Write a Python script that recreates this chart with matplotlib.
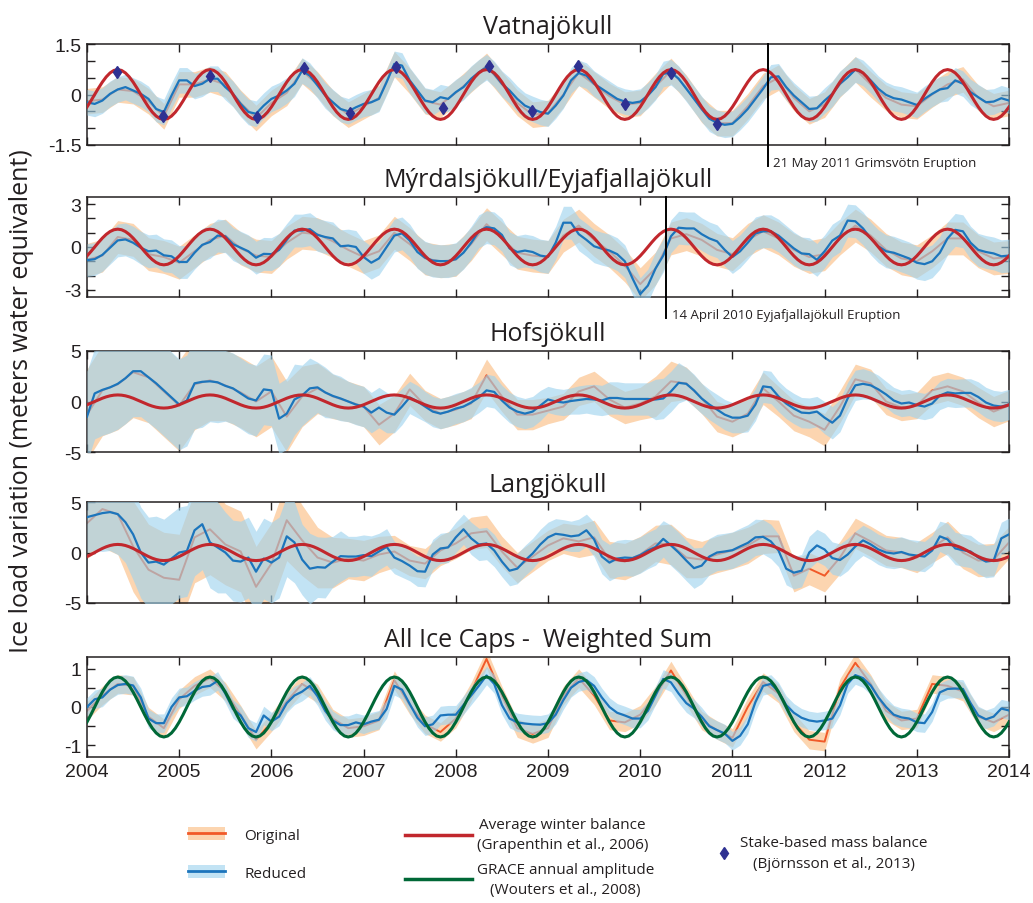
import numpy as np
import matplotlib
matplotlib.use("Agg")
import matplotlib.pyplot as plt
import matplotlib.transforms as mtransforms
from matplotlib.patches import Patch
from matplotlib.lines import Line2D
from matplotlib.legend_handler import HandlerTuple

plt.rcParams['font.family'] = ['Liberation Sans', 'DejaVu Sans']
plt.rcParams['axes.unicode_minus'] = False

# ---- data ------------------------------------------------------------
# reduced series: one value per month, Jan 2004 .. Jan 2014 (121 values)
# original series: one value every two months (61 values)

vat_reduced = [
    -0.23, -0.28, -0.18, 0.02, 0.15, 0.22, 0.12, 0.02, -0.13, -0.43, -0.52, -0.03,
    0.42, 0.42, 0.25, 0.32, 0.47, 0.47, 0.22, 0.02, -0.28, -0.52, -0.57, -0.33,
    -0.13, -0.03, 0.12, 0.32, 0.71, 0.56, 0.27, -0.03, -0.23, -0.43, -0.50, -0.38,
    -0.28, -0.23, -0.13, 0.37, 0.91, 0.86, 0.42, 0.12, -0.18, -0.23, -0.08, -0.13,
    0.07, 0.22, 0.47, 0.66, 0.81, 0.61, 0.32, 0.12, -0.13, -0.33, -0.43, -0.52,
    -0.57, -0.33, -0.03, 0.42, 0.64, 0.56, 0.32, 0.17, 0.02, -0.13, -0.21, -0.25,
    -0.21, -0.03, 0.22, 0.61, 0.66, 0.47, 0.17, -0.13, -0.43, -0.72, -0.84, -0.90,
    -0.87, -0.67, -0.43, -0.13, 0.17, 0.51, 0.54, 0.22, -0.03, -0.23, -0.43, -0.41,
    -0.18, 0.02, 0.32, 0.51, 0.74, 0.64, 0.42, 0.17, -0.01, -0.11, -0.15, -0.23,
    -0.31, -0.13, 0.02, 0.15, 0.19, 0.42, 0.32, 0.07, -0.08, -0.23, -0.21, -0.11,
    -0.18]
vat_original = [
    -0.2, -0.15, 0.15, 0.1, -0.2, -0.65,
    0.3, 0.3, 0.45, 0.3, -0.25, -0.7,
    -0.25, 0.05, 0.7, 0.3, -0.25, -0.6,
    -0.35, -0.1, 0.9, 0.4, -0.2, -0.3,
    0.05, 0.45, 0.85, 0.3, -0.25, -0.6,
    -0.55, 0.0, 0.65, 0.3, -0.05, -0.3,
    -0.25, 0.25, 0.7, 0.2, -0.45, -0.85,
    -0.85, -0.35, 0.25, 0.5, -0.1, -0.5,
    -0.3, 0.3, 0.75, 0.3, -0.1, -0.3,
    -0.35, 0.0, 0.3, 0.45, -0.1, -0.35,
    -0.25]

myr_reduced = [
    -0.92, -0.85, -0.55, -0.05, 0.46, 0.53, 0.30, -0.05, -0.30, -0.25, -0.58, -0.65,
    -1.05, -1.05, -0.40, 0.15, 0.35, 0.80, 0.75, 0.20, -0.05, -0.30, -0.75, -0.48,
    -0.50, -0.20, 0.50, 1.15, 1.15, 1.25, 0.85, 0.70, 0.60, 0.05, 0.10, 0.00,
    -0.70, -1.10, -0.80, 0.00, 0.80, 0.95, 0.45, -0.35, -0.75, -0.95, -0.99, -0.99,
    -0.85, -0.40, 0.30, 1.10, 1.39, 1.30, 0.85, -0.10, -0.35, -0.25, -0.35, -0.60,
    -0.69, 0.30, 1.70, 1.70, 0.90, 0.50, 0.05, -0.12, -0.25, -0.50, -1.00, -2.20,
    -3.30, -2.70, -1.50, -0.60, 0.75, 1.35, 1.30, 1.30, 0.90, 0.60, 0.40, -0.20,
    -0.70, -0.30, 0.30, 0.95, 1.10, 1.10, 0.80, 0.35, -0.10, -0.45, -0.50, -0.90,
    -0.30, 0.45, 0.80, 1.85, 1.80, 1.30, 0.60, 0.05, -0.30, -0.40, -0.60, -0.80,
    -1.10, -1.20, -1.00, -0.40, 0.60, 1.20, 1.10, 0.30, -0.20, -0.35, -0.45, -0.65,
    -0.60]
myr_original = [
    -0.9, -0.6, 0.7, 0.5, -0.5, -0.7,
    -1.1, -0.3, 0.5, 0.8, -0.1, -0.6,
    -0.7, 0.3, 1.0, 0.9, 0.4, -0.2,
    -0.7, -0.3, 1.0, 0.2, -0.8, -1.0,
    -0.9, 0.2, 1.6, 0.6, -0.4, -0.6,
    -0.7, 0.8, 1.5, 0.5, -0.3, -1.3,
    -2.6, -1.5, 0.6, 0.9, 0.5, -0.2,
    -0.5, 0.5, 1.1, 0.6, -0.2, -0.7,
    -0.5, 0.6, 1.5, 0.8, -0.2, -0.8,
    -1.0, -0.3, 0.6, 0.6, -0.3, -0.8,
    -0.7]

hof_reduced = [
    -1.5, 0.8, 1.15, 1.4, 1.75, 2.3, 3.0, 3.0, 2.4, 1.8, 1.1, 0.4,
    -0.3, 0.1, 1.8, 1.95, 2.0, 1.9, 1.55, 1.3, 0.8, 0.3, 0.1, 1.2,
    1.1, -1.7, -1.2, 0.2, 0.6, 1.3, 1.4, 0.9, 0.55, 0.3, 0.0, -0.3,
    -0.5, -1.1, -0.6, -1.1, -1.3, -0.5, 0.4, 0.0, -0.5, -1.0, -1.2, -1.0,
    -0.7, -0.5, -0.1, 0.4, 1.1, 0.95, 0.1, -0.6, -1.0, -1.2, -1.0, -0.4,
    0.2, 0.0, -0.1, 0.05, 0.15, 0.25, 0.2, 0.1, 0.35, 0.35, 0.25, 0.25,
    0.25, 0.25, 0.2, 0.3, 1.0, 1.85, 1.75, 1.1, 0.3, -0.3, -0.8, -1.3,
    -1.6, -1.6, -1.4, -0.3, 1.5, 1.4, 0.5, -0.2, -0.7, -1.1, -1.15, -1.0,
    -1.6, -2.1, -1.4, 0.3, 1.6, 1.75, 1.6, 1.2, 0.7, 0.1, -0.2, -0.1,
    -0.35, -0.5, -0.2, 0.6, 0.9, 0.8, 0.85, 0.85, 0.45, -0.1, -0.4, -0.5,
    -0.3]
hof_original = [
    -1.3, 1.1, 1.7, 2.9, 2.4, 1.0,
    -0.4, 1.7, 2.1, 1.6, 0.9, 0.0,
    1.0, -1.5, 0.5, 1.3, 0.5, 0.0,
    -0.5, -2.3, -1.2, 1.2, -0.4, -1.2,
    -0.8, -0.2, 2.6, 0.5, -1.3, -1.3,
    -0.9, -0.5, 1.0, 1.5, 0.2, -0.6,
    -0.2, 0.5, 2.0, 1.8, 0.3, -1.5,
    -2.0, -1.2, 1.3, 0.0, -1.4, -2.0,
    -2.8, -0.5, 2.2, 1.8, 0.0, -0.6,
    -0.4, 1.1, 1.5, 1.0, -0.1, -1.0,
    -0.4]

lan_reduced = [
    3.5, 3.7, 3.9, 4.0, 3.8, 3.0, 1.8, 0.0, -1.0, -0.9, -1.2, -0.6,
    0.0, 0.15, 2.2, 2.8, 1.0, 0.5, 0.0, -0.8, -0.9, -0.5, -1.9, -0.6,
    -1.0, -0.5, 1.6, 1.0, -0.7, -1.6, -1.45, -1.5, -0.9, -0.36, -0.4, -0.4,
    -0.26, -0.36, 0.1, 0.56, -0.5, -0.85, -1.3, -1.85, -1.9, -0.2, 0.4, 0.5,
    1.5, 2.3, 1.4, 0.8, 0.89, 0.2, -0.9, -1.8, -1.6, -0.8, -0.1, 0.8,
    1.5, 1.85, 1.75, 1.6, 1.7, 2.2, 1.3, -0.4, -1.0, -0.6, -0.5, -0.55,
    -0.25, 0.2, 0.55, 1.35, 0.7, 0.0, -0.8, -1.55, -1.3, -0.4, 0.0, 0.1,
    0.23, 0.6, 0.95, 1.5, 1.55, 1.1, 0.2, -1.6, -2.0, -1.8, 0.0, 0.7,
    0.3, -0.55, -0.75, -0.2, 0.6, 1.2, 0.8, 0.3, 0.0, -0.1, 0.05, -0.2,
    -0.3, -0.4, 0.2, 1.6, 1.3, 0.4, 0.23, 0.1, -0.5, -0.9, -0.8, 1.4,
    1.8]
lan_original = [
    2.9, 4.3, 3.8, 0.6, -1.7, -2.5,
    -2.7, 1.5, 2.3, 0.8, 0.1, -3.4,
    -1.1, 3.2, 1.2, -0.5, -1.0, -0.6,
    -0.8, -0.2, 0.1, -0.8, -1.1, 0.2,
    0.9, 1.9, 2.1, 0.1, -1.5, -0.4,
    0.7, 1.4, 1.1, 1.5, -0.7, -0.9,
    -0.2, 0.9, 0.8, -0.5, -0.7, -0.2,
    0.2, 0.7, 1.6, 1.6, -2.3, -1.6,
    -2.3, -0.5, 1.9, 1.1, 0.2, 0.0,
    -0.5, 0.5, 1.5, 0.0, -0.8, -0.7,
    1.0]

all_reduced = [
    0.0, 0.2, 0.25, 0.45, 0.57, 0.6, 0.56, 0.25, -0.3, -0.42, -0.42, 0.0,
    0.25, 0.28, 0.42, 0.52, 0.55, 0.68, 0.35, -0.05, -0.22, -0.55, -0.65, -0.22,
    -0.38, -0.25, 0.1, 0.3, 0.4, 0.55, 0.28, -0.1, -0.35, -0.47, -0.47, -0.4,
    -0.45, -0.38, -0.33, -0.05, 0.55, 0.45, 0.08, -0.28, -0.5, -0.45, -0.22, -0.2,
    -0.2, 0.05, 0.3, 0.55, 0.82, 0.6, 0.05, -0.3, -0.4, -0.43, -0.45, -0.46,
    -0.42, -0.2, 0.18, 0.5, 0.65, 0.7, 0.55, 0.25, 0.0, -0.15, -0.22, -0.3,
    -0.3, -0.1, 0.3, 0.73, 0.64, 0.35, 0.1, -0.04, -0.25, -0.5, -0.6, -0.69,
    -0.88, -0.75, -0.45, 0.13, 0.55, 0.6, 0.4, 0.05, -0.15, -0.28, -0.35, -0.38,
    -0.35, -0.3, 0.04, 0.6, 0.83, 0.75, 0.56, 0.25, 0.0, -0.2, -0.27, -0.3,
    -0.4, -0.42, -0.13, 0.38, 0.47, 0.48, 0.47, 0.1, -0.22, -0.32, -0.25, -0.04,
    -0.09]
all_original = [
    -0.1, 0.3, 0.6, 0.55, -0.25, -0.55,
    0.2, 0.55, 0.75, 0.4, -0.2, -0.85,
    -0.4, 0.15, 0.6, 0.35, -0.3, -0.55,
    -0.5, -0.35, 0.7, 0.05, -0.45, -0.65,
    -0.3, 0.4, 1.25, 0.3, -0.55, -0.7,
    -0.55, 0.3, 0.75, 0.3, -0.35, -0.4,
    -0.2, 0.3, 0.95, 0.3, -0.35, -0.6,
    -0.8, 0.0, 0.65, 0.35, -0.4, -0.85,
    -0.9, 0.5, 1.15, 0.6, -0.1, -0.35,
    -0.3, 0.6, 0.55, 0.4, -0.25, -0.4,
    -0.2]

# half-width of the uncertainty envelopes (two-monthly where it changes)
vat_hw = [0.38]
myr_hw = [1.15]
all_hw = [0.24]
hof_hw = [
    4.5, 4.5, 4.5, 4.5, 4.5, 4.5,
    4.5, 4.5, 4.0, 3.5, 3.5, 3.5,
    3.5, 3.5, 3.0, 2.5, 2.2, 2.0,
    2.0, 2.0, 1.8, 1.6, 1.5, 1.5,
    1.5, 1.5, 1.6, 1.5, 1.5, 1.5,
    1.3, 1.3, 1.4, 1.5, 1.6, 1.6,
    1.6, 2.0, 2.0, 1.6, 1.5, 1.5,
    1.5, 1.6, 1.6, 1.5, 1.5, 1.5,
    1.6, 1.6, 1.5, 1.4, 1.3, 1.3,
    1.3, 1.4, 1.4, 1.4, 1.5, 1.5,
    1.5]
lan_hw = [
    3.5, 3.8, 4.0, 4.5, 4.5, 4.5,
    4.5, 4.5, 4.5, 4.0, 4.0, 4.0,
    4.0, 4.0, 3.5, 3.0, 2.5, 2.0,
    2.0, 1.8, 1.6, 1.5, 1.5, 1.5,
    1.5, 1.6, 1.6, 1.5, 1.5, 1.5,
    1.5, 1.5, 1.6, 1.7, 1.8, 1.8,
    1.8, 1.8, 2.0, 2.0, 1.8, 1.8,
    1.8, 1.8, 1.7, 1.6, 1.6, 1.6,
    1.6, 1.6, 1.5, 1.5, 1.5, 1.5,
    1.5, 1.5, 1.6, 1.6, 1.6, 1.6,
    1.6]

# seasonal model: one year shape (half-month steps, peak early May) and amplitudes
season_shape = [-0.5, -0.259, 0.0, 0.259, 0.5, 0.707, 0.866, 0.966, 1.0, 0.966, 0.866, 0.707,
                0.5, 0.259, 0.0, -0.259, -0.5, -0.707, -0.866, -0.966, -1.0, -0.966, -0.866, -0.707]
amp_vat = 0.74
amp_myr = 1.25
amp_hof = 0.65
amp_lan = 0.8
amp_grace = 0.78

# stake-based mass balance (Vatnajokull)
stake_t = [2004.32, 2004.82, 2005.33, 2005.84, 2006.35, 2006.85, 2007.35, 2007.86,
           2008.36, 2008.83, 2009.32, 2009.83, 2010.33, 2010.83]
stake_v = [0.68, -0.64, 0.54, -0.67, 0.79, -0.55, 0.81, -0.40,
           0.86, -0.50, 0.86, -0.28, 0.64, -0.88]

years = list(range(2004, 2015))

# ---- styles -------------------------------------------------------------
ORANGE = '#f15a29'
ORANGE_BAND = '#fcd5b0'
BLUE = '#1c75bc'
BLUE_BAND = '#9dd2ee'
RED = '#c1272d'
GREEN = '#006837'
NAVY = '#2e3192'
INK = '#231f20'
TITLE_FONT = ['Open Sans', 'DejaVu Sans']

t_red = 2004 + np.arange(len(vat_reduced)) / 12.0
t_orig = 2004 + np.arange(len(vat_original)) / 6.0
t_model = 2004 + np.arange(241) / 24.0


def widths(hw, n, step):
    hw = np.asarray(hw, dtype=float)
    if hw.size == 1:
        return np.full(n, hw[0])
    return np.repeat(hw, step)[:n]


def model_curve(amp):
    return amp * np.append(np.tile(season_shape, 10), season_shape[0])


panels = [
    dict(title='Vatnajökull', red=vat_reduced, orig=vat_original, hw=vat_hw,
         amp=amp_vat, mcol=RED, ylim=(-1.5, 1.5),
         yticks=[-1.5, -1, -0.5, 0, 0.5, 1, 1.5],
         ylabels=['-1.5', '', '', '0', '', '', '1.5'], px=(45, 146)),
    dict(title='Mýrdalsjökull/Eyjafjallajökull', red=myr_reduced, orig=myr_original,
         hw=myr_hw, amp=amp_myr, mcol=RED, ylim=(-3.5, 3.5),
         yticks=[-3, -2, -1, 0, 1, 2, 3],
         ylabels=['-3', '', '', '0', '', '', '3'], px=(198, 298)),
    dict(title='Hofsjökull', red=hof_reduced, orig=hof_original, hw=hof_hw,
         amp=amp_hof, mcol=RED, ylim=(-5, 5), yticks=[-5, 0, 5],
         ylabels=['-5', '0', '5'], px=(352, 453)),
    dict(title='Langjökull', red=lan_reduced, orig=lan_original, hw=lan_hw,
         amp=amp_lan, mcol=RED, ylim=(-5, 5), yticks=[-5, 0, 5],
         ylabels=['-5', '0', '5'], px=(503, 604)),
    dict(title='All Ice Caps -  Weighted Sum', red=all_reduced, orig=all_original,
         hw=all_hw, amp=amp_grace, mcol=GREEN, ylim=(-1.3, 1.3),
         yticks=[-1, -0.5, 0, 0.5, 1],
         ylabels=['-1', '', '0', '', '1'], px=(658, 758)),
]

W, H = 1033, 904
fig = plt.figure(figsize=(W / 100, H / 100), dpi=100)

axes = []
for i, p in enumerate(panels):
    top, bot = p['px']
    ax = fig.add_axes([87 / W, 1 - bot / H, 922 / W, (bot - top) / H])
    axes.append(ax)

    red = np.asarray(p['red'])
    orig = np.asarray(p['orig'])
    hw_r = widths(p['hw'], len(red), 2)
    hw_o = widths(p['hw'], len(orig), 1)

    ax.fill_between(t_orig, orig - hw_o, orig + hw_o, color=ORANGE_BAND, lw=0, zorder=1)
    ax.plot(t_orig, orig, color=ORANGE, lw=1.4, zorder=2)
    ax.fill_between(t_red, red - hw_r, red + hw_r, color=BLUE_BAND, alpha=0.62, lw=0, zorder=3)
    ax.plot(t_red, red, color=BLUE, lw=1.6, zorder=4)
    ax.plot(t_model, model_curve(p['amp']), color=p['mcol'], lw=2.2, zorder=5)

    ax.set_xlim(2004, 2014)
    ax.set_ylim(*p['ylim'])
    ax.set_xticks(years)
    ax.set_yticks(p['yticks'])
    ax.set_yticklabels(p['ylabels'])
    ax.tick_params(direction='in', top=True, right=True, length=6, width=1.0,
                   labelsize=14, pad=4, colors=INK)
    if i < len(panels) - 1:
        ax.tick_params(labelbottom=False)
    else:
        ax.set_xticklabels([str(y) for y in years])
    for s in ax.spines.values():
        s.set_linewidth(1.1)
        s.set_color(INK)
    ax.set_title(p['title'], fontsize=18, family=TITLE_FONT, color=INK, pad=8)

# stake measurements on Vatnajokull
axes[0].plot(stake_t, stake_v, ls='none', marker='d', ms=6.5, color=NAVY, zorder=6)

# eruption markers
eruptions = [(0, 2011.385, '21 May 2011 Grimsvötn Eruption'),
             (1, 2010.285, '14 April 2010 Eyjafjallajökull Eruption')]
for idx, te, label in eruptions:
    ax = axes[idx]
    ax.axvline(te, ymin=-0.21, ymax=1, color='black', lw=1.4, clip_on=False, zorder=7)
    trans = mtransforms.blended_transform_factory(ax.transData, ax.transAxes)
    ax.text(te + 0.06, -0.175, label, transform=trans, fontsize=9.5, va='center',
            ha='left', family=TITLE_FONT, color=INK)

fig.text(0.021, 0.556, 'Ice load variation (meters water equivalent)', rotation=90,
         ha='center', va='center', fontsize=18, family=TITLE_FONT, color=INK)

# ---- legends -------------------------------------------------------------
LEG_FONT = dict(family=TITLE_FONT, size=11)
h_orig = (Patch(facecolor=ORANGE_BAND, edgecolor='none'), Line2D([], [], color=ORANGE, lw=2))
h_red = (Patch(facecolor=BLUE_BAND, edgecolor='none', alpha=0.62), Line2D([], [], color=BLUE, lw=2))
leg1 = fig.legend([h_orig, h_red], ['Original', 'Reduced'],
                  handler_map={tuple: HandlerTuple(ndivide=1, pad=0)},
                  loc='center left', bbox_to_anchor=(188 / W, 1 - 855 / H),
                  frameon=False, borderpad=0, borderaxespad=0, prop=LEG_FONT,
                  handlelength=2.4, handleheight=0.9, handletextpad=1.3, labelspacing=1.5)

leg2 = fig.legend([Line2D([], [], color=RED, lw=2.5), Line2D([], [], color=GREEN, lw=2.5)],
                  ['Average winter balance\n(Grapenthin et al., 2006)',
                   'GRACE annual amplitude\n(Wouters et al., 2008)'],
                  loc='center left', bbox_to_anchor=(405 / W, 1 - 858 / H),
                  frameon=False, borderpad=0, borderaxespad=0, prop=LEG_FONT,
                  handlelength=4.4, handletextpad=0.3, labelspacing=0.6)

leg3 = fig.legend([Line2D([], [], ls='none', marker='d', ms=6, color=NAVY)],
                  ['Stake-based mass balance\n(Björnsson et al., 2013)'],
                  loc='center left', bbox_to_anchor=(716 / W, 1 - 854 / H),
                  frameon=False, borderpad=0, borderaxespad=0, prop=LEG_FONT,
                  handlelength=1.0, handletextpad=0.6)

for leg in (leg1, leg2, leg3):
    for t in leg.get_texts():
        t.set_multialignment('center')
        t.set_linespacing(1.5)
        t.set_color(INK)

fig.savefig('out.png', dpi=100)
